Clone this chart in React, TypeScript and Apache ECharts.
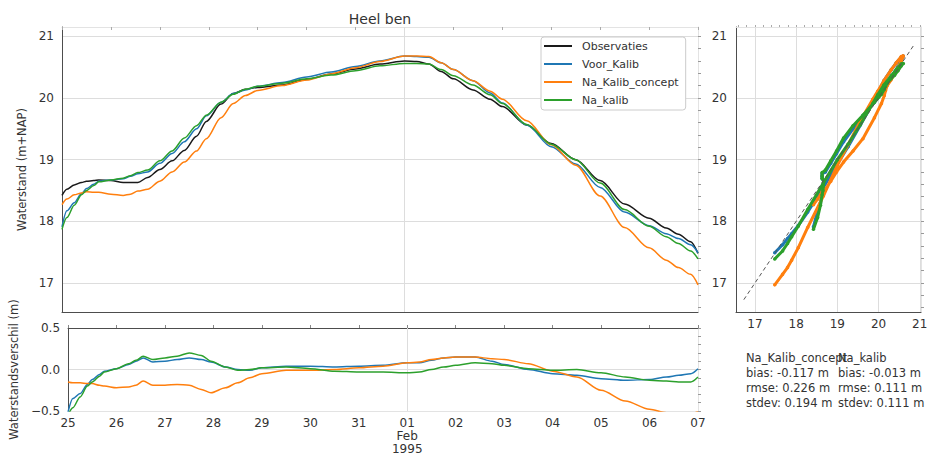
import React, { useEffect, useRef } from "react";
import * as echarts from "echarts";

// Tijd in dagen sinds 25 januari 1995 00:00
const dagen = [
  0, 0.1, 0.25, 0.4, 0.5, 0.65, 0.75, 1.0, 1.25, 1.4, 1.55, 1.75, 2.0, 2.25, 2.5,
  2.75, 2.95, 3.25, 3.5, 3.75, 4.0, 4.5, 5.0, 5.5, 6.0, 6.5, 7.0, 7.25, 7.5, 7.75,
  8.0, 8.4, 8.75, 9.0, 9.5, 10.0, 10.5, 11.0, 11.5, 12.0, 12.35, 12.6, 12.85, 13.0,
];

// Gemeten waterstand (m+NAP)
const observaties = [
  18.42, 18.52, 18.59, 18.63, 18.65, 18.66, 18.67, 18.66, 18.63, 18.63, 18.63,
  18.71, 18.84, 18.98, 19.15, 19.38, 19.62, 19.9, 20.07, 20.14, 20.17, 20.21,
  20.3, 20.39, 20.47, 20.55, 20.6, 20.59, 20.55, 20.43, 20.31, 20.13, 19.98,
  19.86, 19.56, 19.26, 19.0, 18.66, 18.28, 18.05, 17.89, 17.79, 17.67, 17.48,
];

// Verschil model - observatie (m)
const verschilVoorKalib = [
  -0.51, -0.35, -0.29, -0.18, -0.12, -0.06, -0.02, 0.01, 0.06, 0.1, 0.14, 0.09,
  0.1, 0.12, 0.14, 0.12, 0.09, 0.03, 0.0, -0.01, 0.02, 0.04, 0.04, 0.03, 0.04,
  0.05, 0.08, 0.08, 0.11, 0.14, 0.15, 0.15, 0.1, 0.06, 0.0, -0.05, -0.07, -0.11,
  -0.13, -0.12, -0.09, -0.07, -0.05, 0.01,
];
const verschilNaKalibConcept = [
  -0.15, -0.16, -0.16, -0.17, -0.17, -0.19, -0.2, -0.22, -0.21, -0.19, -0.14,
  -0.19, -0.19, -0.18, -0.19, -0.24, -0.28, -0.22, -0.16, -0.1, -0.05, -0.01,
  -0.01, 0.0, 0.02, 0.04, 0.08, 0.09, 0.12, 0.14, 0.15, 0.15, 0.13, 0.12, 0.07,
  -0.02, -0.09, -0.25, -0.38, -0.48, -0.52, -0.54, -0.53, -0.51,
];
const verschilNaKalib = [
  -0.55, -0.46, -0.33, -0.2, -0.15, -0.08, -0.03, 0.01, 0.07, 0.11, 0.16, 0.12,
  0.14, 0.16, 0.2, 0.17, 0.1, 0.03, -0.01, 0.0, 0.02, 0.03, 0.01, -0.02, -0.03,
  -0.03, -0.04, -0.03, 0.0, 0.03, 0.05, 0.08, 0.07, 0.05, 0.01, -0.01, 0.0, -0.04,
  -0.09, -0.13, -0.14, -0.15, -0.15, -0.09,
];

const dagLabels = ["25", "26", "27", "28", "29", "30", "31", "01\nFeb\n1995", "02", "03", "04", "05", "06", "07"];
const dagTicks = [0, 1, 2, 3, 4, 5, 6, 7, 8, 9, 10, 11, 12, 13];
const maandGrens = 7;
const standTicks = [17, 18, 19, 20, 21];
const verschilLabelTicks = [-0.5, 0, 0.5];
const verschilGridTicks = [0];

const reeksNamen = ["Observaties", "Voor_Kalib", "Na_Kalib_concept", "Na_kalib"];
const kleuren = ["#1a1a1a", "#1f77b4", "#ff7f0e", "#2ca02c"];

const statNamen = ["Na_Kalib_concept", "Na_kalib"];
const statBias = ["-0.117", "-0.013"];
const statRmse = ["0.226", "0.111"];
const statStdev = ["0.194", "0.111"];

const eenOpEen = [16.73, 20.87];

const FONT = "DejaVu Sans";
const TEXT = "#333333";
const DARK = "#4d4d4d";
const LIGHT = "#e3e3e3";
const GRIDC = "#dddddd";

function reeks(a: number, b: number, stap: number): number[] {
  const out: number[] = [];
  for (let v = a; v <= b + 1e-9; v += stap) out.push(Math.round(v * 1000) / 1000);
  return out;
}

const verschillen = [verschilVoorKalib, verschilNaKalibConcept, verschilNaKalib];
const modellen = verschillen.map((v) => observaties.map((o, i) => Math.round((o + v[i]) * 1000) / 1000));

function fmtMin(v: number): string {
  const s = v.toFixed(1);
  return s.replace("-", "\u2212");
}

export default function App() {
  const ref = useRef<HTMLDivElement>(null);

  useEffect(() => {
    if (!ref.current) return;
    const chart = echarts.init(ref.current, null, { renderer: "svg" });

    const maandLijn = {
      silent: true,
      symbol: "none",
      label: { show: false },
      lineStyle: { color: GRIDC, type: "solid", width: 1 },
      data: [{ xAxis: maandGrens }],
      z: 1,
    };

    const hoofdSeries = reeksNamen.map((naam, k) => ({
      type: "line",
      name: naam,
      xAxisIndex: 0,
      yAxisIndex: 0,
      data: dagen.map((d, i) => [d, k === 0 ? observaties[i] : modellen[k - 1][i]]),
      showSymbol: false,
      smooth: 0.3,
      smoothMonotone: "x",
      lineStyle: { width: 1.5, color: kleuren[k] },
      itemStyle: { color: kleuren[k] },
      z: 3 + k,
      ...(k === 0 ? { markLine: maandLijn } : {}),
    }));

    const verschilSeries = [1, 2, 3].map((k) => ({
      type: "line",
      name: reeksNamen[k],
      xAxisIndex: 2,
      yAxisIndex: 2,
      data: dagen.map((d, i) => [d, verschillen[k - 1][i]]),
      showSymbol: false,
      smooth: 0.3,
      smoothMonotone: "x",
      lineStyle: { width: 1.5, color: kleuren[k] },
      itemStyle: { color: kleuren[k] },
      z: 3 + k,
      ...(k === 1 ? { markLine: maandLijn } : {}),
    }));

    const spreidingSeries = [1, 2, 3].map((k) => ({
      type: "line",
      name: reeksNamen[k],
      xAxisIndex: 4,
      yAxisIndex: 4,
      data: observaties.map((o, i) => [o, modellen[k - 1][i]]),
      showSymbol: true,
      symbol: "circle",
      symbolSize: 3.5,
      lineStyle: { width: 3, color: kleuren[k] },
      itemStyle: { color: kleuren[k] },
      z: 3 + k,
    }));

    const lijn = {
      type: "line",
      name: "1:1",
      xAxisIndex: 4,
      yAxisIndex: 4,
      data: eenOpEen.map((v) => [v, v]),
      showSymbol: false,
      lineStyle: { width: 1, color: "#555", type: [4, 3] },
      z: 8,
    };

    const label = { color: TEXT, fontFamily: FONT, fontSize: 12 };
    const lijnStijl = (kleur: string) => ({ show: true, onZero: false, lineStyle: { color: kleur, width: 1 } });

    chart.setOption({
      animation: false,
      textStyle: { fontFamily: FONT, color: TEXT },
      title: {
        text: "Heel ben",
        left: 380,
        top: 12,
        padding: 0,
        textAlign: "center",
        textStyle: { fontFamily: FONT, fontSize: 14, fontWeight: "normal", color: TEXT },
      },
      legend: {
        data: reeksNamen,
        orient: "vertical",
        left: 541,
        top: 37,
        icon: "rect",
        itemWidth: 28,
        itemHeight: 2,
        itemGap: 4,
        padding: [2, 7, 3, 3],
        backgroundColor: "#ffffff",
        borderColor: "#cccccc",
        borderWidth: 1,
        borderRadius: 3,
        textStyle: { fontFamily: FONT, fontSize: 11, color: TEXT, lineHeight: 14, padding: [0, 0, 0, 5] },
        z: 20,
      },
      grid: [
        { left: 62, top: 27, width: 636, height: 285 },
        { left: 62, top: 328, width: 636, height: 83 },
        { left: 736, top: 27, width: 185, height: 285 },
      ],
      xAxis: [
        {
          gridIndex: 0, type: "value", min: 0, max: 13, position: "bottom",
          axisLine: lijnStijl(DARK),
          axisTick: { show: false }, axisLabel: { show: false }, splitLine: { show: false },
        },
        {
          gridIndex: 0, type: "value", min: 0, max: 13, position: "top",
          axisLine: lijnStijl(LIGHT),
          axisTick: { show: true, inside: true, length: 3, customValues: dagTicks, lineStyle: { color: "#aaaaaa" } },
          axisLabel: { show: false }, splitLine: { show: false },
        },
        {
          gridIndex: 1, type: "value", min: 0, max: 13, position: "bottom",
          axisLine: lijnStijl(LIGHT),
          axisTick: { show: false, customValues: dagTicks },
          axisLabel: {
            ...label, margin: 5, lineHeight: 13, customValues: dagTicks,
            formatter: (v: number) => dagLabels[Math.round(v)] ?? "",
          },
          splitLine: { show: false },
        },
        {
          gridIndex: 1, type: "value", min: 0, max: 13, position: "top",
          axisLine: lijnStijl(DARK),
          axisTick: { show: true, inside: false, length: 3, customValues: dagTicks, lineStyle: { color: "#888888" } },
          axisLabel: { show: false }, splitLine: { show: false },
        },
        {
          gridIndex: 2, type: "value", min: 16.54, max: 21.03, position: "bottom",
          axisLine: lijnStijl(DARK),
          axisTick: { show: false, customValues: standTicks },
          axisLabel: { ...label, margin: 6, customValues: standTicks, formatter: (v: number) => String(v) },
          splitLine: { show: true, lineStyle: { color: GRIDC, width: 1 } },
        },
        {
          gridIndex: 2, type: "value", min: 16.54, max: 21.03, position: "top",
          axisLine: lijnStijl(LIGHT),
          axisTick: { show: true, inside: false, length: 2, customValues: reeks(16.6, 21.0, 0.2), lineStyle: { color: "#aaaaaa" } },
          axisLabel: { show: false }, splitLine: { show: false },
        },
      ],
      yAxis: [
        {
          gridIndex: 0, type: "value", min: 16.53, max: 21.15, position: "left",
          name: "Waterstand (m+NAP)", nameLocation: "middle", nameGap: 26,
          nameTextStyle: { fontFamily: FONT, fontSize: 11.5, color: TEXT },
          axisLine: lijnStijl(DARK),
          axisTick: { show: false, customValues: standTicks },
          axisLabel: { ...label, margin: 8, customValues: standTicks, formatter: (v: number) => String(v) },
          splitLine: { show: true, lineStyle: { color: GRIDC, width: 1 } },
        },
        {
          gridIndex: 0, type: "value", min: 16.53, max: 21.15, position: "right",
          axisLine: lijnStijl(LIGHT),
          axisTick: { show: true, inside: false, length: 3, customValues: reeks(16.6, 21.0, 0.2), lineStyle: { color: "#999999" } },
          axisLabel: { show: false }, splitLine: { show: false },
        },
        {
          gridIndex: 1, type: "value", min: -0.5, max: 0.5, position: "left",
          name: "Waterstandsverschil (m)", nameLocation: "middle", nameGap: 40,
          nameTextStyle: { fontFamily: FONT, fontSize: 11.5, color: TEXT },
          axisLine: lijnStijl(DARK),
          axisTick: { show: false, customValues: verschilGridTicks },
          axisLabel: { ...label, margin: 8, customValues: verschilLabelTicks, formatter: (v: number) => fmtMin(v) },
          splitLine: { show: true, lineStyle: { color: GRIDC, width: 1 } },
        },
        {
          gridIndex: 1, type: "value", min: -0.5, max: 0.5, position: "right",
          axisLine: lijnStijl(LIGHT),
          axisTick: { show: true, inside: false, length: 3, customValues: reeks(-0.5, 0.5, 0.1), lineStyle: { color: "#999999" } },
          axisLabel: { show: false }, splitLine: { show: false },
        },
        {
          gridIndex: 2, type: "value", min: 16.53, max: 21.15, position: "left",
          axisLine: lijnStijl(DARK),
          axisTick: { show: false, customValues: standTicks },
          axisLabel: { ...label, margin: 9, customValues: standTicks, formatter: (v: number) => String(v) },
          splitLine: { show: true, lineStyle: { color: GRIDC, width: 1 } },
        },
        {
          gridIndex: 2, type: "value", min: 16.53, max: 21.15, position: "right",
          axisLine: lijnStijl(LIGHT),
          axisTick: { show: true, inside: false, length: 3, customValues: reeks(16.6, 21.0, 0.2), lineStyle: { color: "#999999" } },
          axisLabel: { show: false }, splitLine: { show: false },
        },
      ],
      graphic: statNamen.map((naam, j) => ({
        type: "text",
        left: j === 0 ? 746 : 838,
        top: 350,
        style: {
          text: `${naam}\nbias: ${statBias[j]} m\nrmse: ${statRmse[j]} m\nstdev: ${statStdev[j]} m`,
          font: `11.5px "${FONT}"`,
          fill: TEXT,
          lineHeight: 15,
        },
        z: 10,
      })),
      series: [...hoofdSeries, ...verschilSeries, ...spreidingSeries, lijn],
    });

    return () => chart.dispose();
  }, []);

  return (
    <div
      ref={ref}
      style={{ position: "fixed", left: 0, top: 0, width: 931, height: 456, background: "#ffffff" }}
    />
  );
}
